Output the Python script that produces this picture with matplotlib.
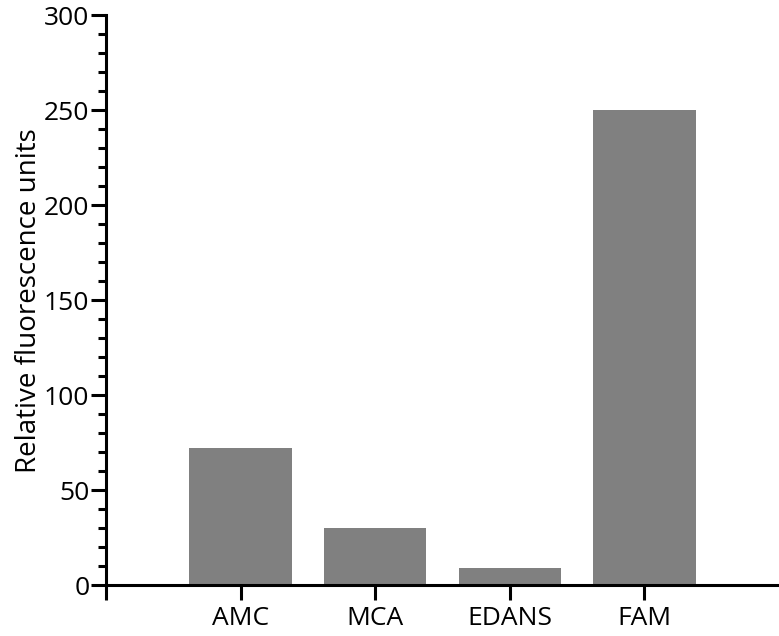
import numpy as np
import matplotlib
matplotlib.use("Agg")
import matplotlib.pyplot as plt
from matplotlib.ticker import MultipleLocator

plt.rcParams['font.family'] = ['Open Sans', 'DejaVu Sans']

labels = ['AMC', 'MCA', 'EDANS', 'FAM']
values = [72, 30, 9, 250]

fig = plt.figure(figsize=(7.79, 6.36), dpi=100)
ax = fig.add_axes([0.136, 0.080, 0.864, 0.896])

x = np.arange(len(labels))
ax.bar(x, values, width=0.76, color='#808080', zorder=1)

ax.set_xlim(-1, 4)
ax.set_ylim(0, 300)
ax.set_xticks([-1] + list(x))
ax.set_xticklabels([''] + labels, fontsize=19)
ax.yaxis.set_major_locator(MultipleLocator(50))
ax.yaxis.set_minor_locator(MultipleLocator(10))
ax.tick_params(axis='y', labelsize=19, pad=1)
ax.tick_params(which='major', length=11, width=2.2)
ax.tick_params(which='minor', length=6, width=2.2)
ax.tick_params(axis='x', pad=4)
ax.set_ylabel('Relative fluorescence units', fontsize=20, labelpad=1)

for s in ['top', 'right']:
    ax.spines[s].set_visible(False)
for s in ['left', 'bottom']:
    ax.spines[s].set_linewidth(2.2)

fig.savefig('out.png', dpi=100)
